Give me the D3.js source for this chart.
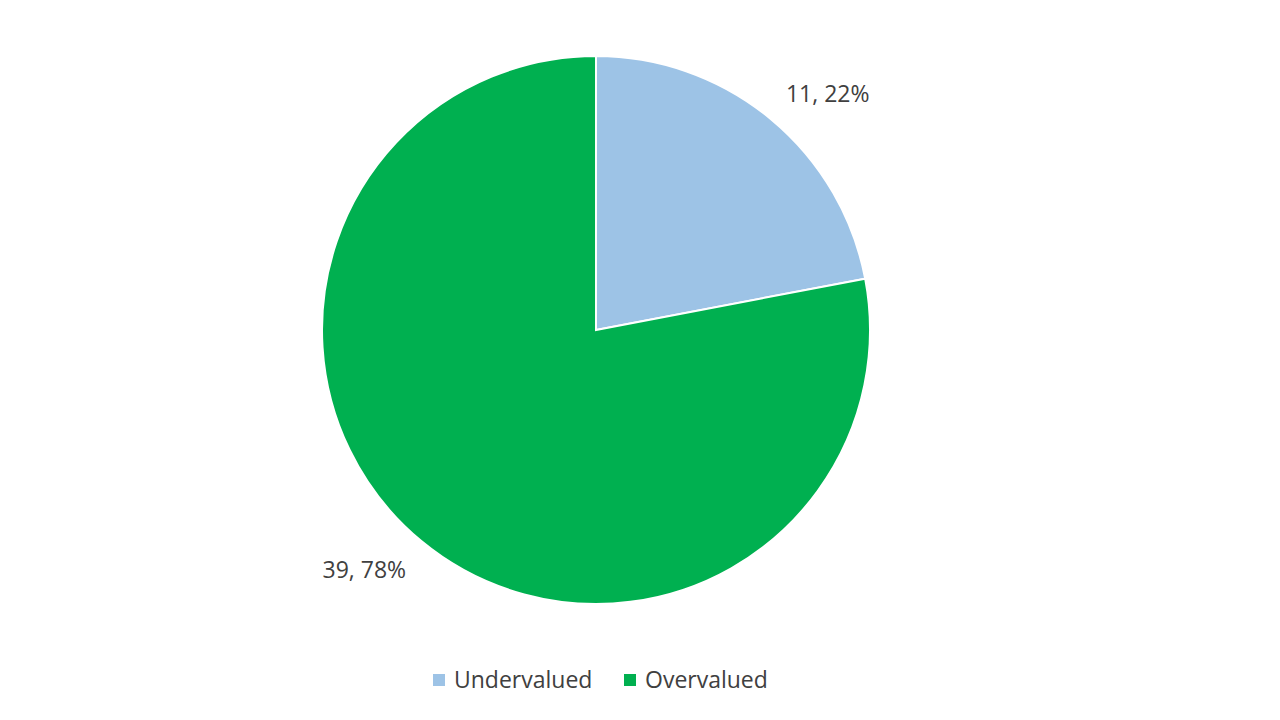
<!DOCTYPE html>
<html>
<head>
<meta charset="utf-8">
<script src="https://cdn.jsdelivr.net/npm/d3@7"></script>
<style>
  body { margin: 0; background: #ffffff; }
  text { font-family: "Open Sans", "Noto Sans", sans-serif; fill: #404040; }
</style>
</head>
<body>
<div id="chart"></div>
<script>
const categories = ["Undervalued", "Overvalued"];
const counts = [11, 39];
const colors = ["#9DC3E6", "#00B050"];

const width = 1280;
const height = 720;
const center = {x: 596, y: 330};
const radius = 274;

const svg = d3.select("#chart")
    .append("svg")
    .attr("width", width)
    .attr("height", height);

const total = d3.sum(counts);
const data = categories.map(function (c, i) {
    return {name: c, value: counts[i], color: colors[i]};
});

const pie = d3.pie()
    .sort(null)
    .value(function (d) { return d.value; });

const arc = d3.arc()
    .innerRadius(0)
    .outerRadius(radius);

const g = svg.append("g")
    .attr("transform", "translate(" + center.x + "," + center.y + ")");

const slices = pie(data);

g.selectAll(".slice")
    .data(slices)
    .enter()
    .append("path")
    .attr("class", "slice")
    .attr("d", arc)
    .attr("fill", function (d) { return d.data.color; })
    .attr("stroke", "#ffffff")
    .attr("stroke-width", 2);

// data labels just outside the pie edge
const labelR = radius + 24;
g.selectAll(".label")
    .data(slices)
    .enter()
    .append("text")
    .attr("class", "label")
    .attr("x", function (d) {
        let a = (d.startAngle + d.endAngle) / 2;
        return labelR * Math.sin(a);
    })
    .attr("y", function (d) {
        let a = (d.startAngle + d.endAngle) / 2;
        return -labelR * Math.cos(a);
    })
    .attr("text-anchor", function (d) {
        let a = (d.startAngle + d.endAngle) / 2;
        return a < Math.PI ? "start" : "end";
    })
    .attr("dy", function (d) {
        let a = (d.startAngle + d.endAngle) / 2;
        return Math.cos(a) > 0 ? "0.05em" : "0.8em";
    })
    .style("font-size", "23px")
    .text(function (d) {
        return d.data.value + ", " + Math.round(d.data.value / total * 100) + "%";
    });

// legend
const legend = svg.append("g")
    .attr("class", "legend")
    .attr("transform", "translate(433, 680)");

const legendX = [0, 191];
const items = legend.selectAll(".item")
    .data(data)
    .enter()
    .append("g")
    .attr("transform", function (d, i) { return "translate(" + legendX[i] + ",0)"; });

items.append("rect")
    .attr("x", 0)
    .attr("y", -6)
    .attr("width", 12)
    .attr("height", 12)
    .attr("fill", function (d) { return d.color; });

items.append("text")
    .attr("x", 21)
    .attr("y", 0)
    .attr("dy", "0.35em")
    .style("font-size", "23px")
    .text(function (d) { return d.name; });
</script>
</body>
</html>
